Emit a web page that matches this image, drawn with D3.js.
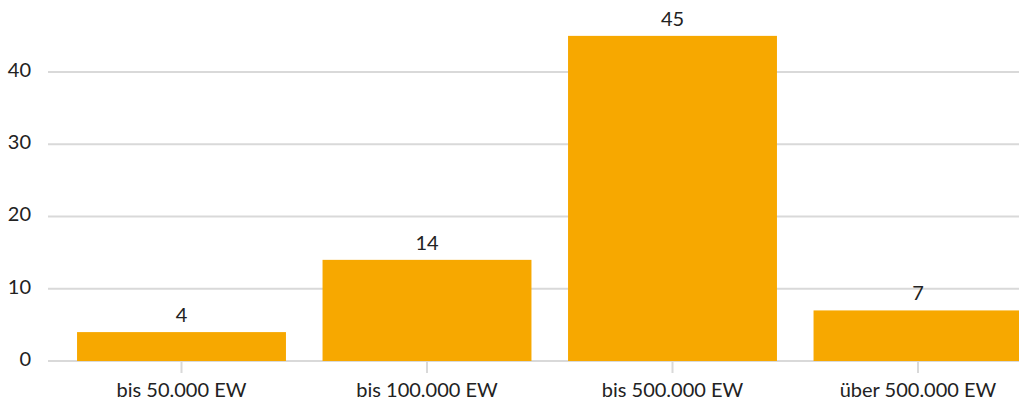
<!DOCTYPE html>
<html>
<head>
<meta charset="utf-8">
<script src="https://cdn.jsdelivr.net/npm/d3@7"></script>
<style>
  html, body { margin: 0; padding: 0; background: #fff; }
  svg { display: block; font-family: Lato, "Open Sans", sans-serif; }
</style>
</head>
<body>
<svg id="chart" width="1019" height="401"></svg>
<script>
// Kommunen nach Einwohnerzahl
const categories = ["bis 50.000 EW", "bis 100.000 EW", "bis 500.000 EW", "über 500.000 EW"];
const values = [4, 14, 45, 7];
const yTicks = [0, 10, 20, 30, 40];

const svg = d3.select("#chart");
const baseY = 361, topY = 72;
const fontSize = 20;

const x = d3.scaleBand()
  .domain(categories)
  .range([58.75, 1040.75])
  .paddingInner(0.149)
  .paddingOuter(0.0745);

const y = d3.scaleLinear().domain([0, 40]).range([baseY, topY]);

// horizontal grid lines
svg.append("g")
  .selectAll("line")
  .data(yTicks)
  .join("line")
  .attr("x1", 48).attr("x2", 1019)
  .attr("y1", d => y(d)).attr("y2", d => y(d))
  .attr("stroke", "#d9d9d9").attr("stroke-width", 2);

// y axis labels
const yAxis = d3.axisLeft(y).tickValues(yTicks).tickSize(0).tickPadding(0);
svg.append("g")
  .attr("transform", "translate(31,-2)")
  .call(yAxis)
  .call(g => g.select(".domain").remove())
  .selectAll("text")
  .attr("font-size", fontSize)
  .attr("font-family", "Lato, 'Open Sans', sans-serif")
  .attr("fill", "#222");

// bars
svg.append("g")
  .selectAll("rect")
  .data(values)
  .join("rect")
  .attr("x", (d, i) => x(categories[i]))
  .attr("width", x.bandwidth())
  .attr("y", d => y(d))
  .attr("height", d => baseY - y(d))
  .attr("fill", "#F7A800");

// x axis: ticks at category centres and labels
const xAxis = d3.axisBottom(x).tickSize(12).tickPadding(10);
svg.append("g")
  .attr("transform", `translate(0,${baseY})`)
  .call(xAxis)
  .call(g => g.select(".domain").remove())
  .call(g => g.selectAll(".tick line").attr("stroke", "#d9d9d9").attr("stroke-width", 2))
  .selectAll("text")
  .attr("font-size", fontSize)
  .attr("font-family", "Lato, 'Open Sans', sans-serif")
  .attr("fill", "#222");

// value labels
svg.append("g")
  .selectAll("text")
  .data(values)
  .join("text")
  .attr("x", (d, i) => x(categories[i]) + x.bandwidth() / 2)
  .attr("y", d => y(d) - 10)
  .attr("text-anchor", "middle")
  .attr("font-size", fontSize)
  .attr("fill", "#222")
  .text(d => d);
</script>
</body>
</html>
